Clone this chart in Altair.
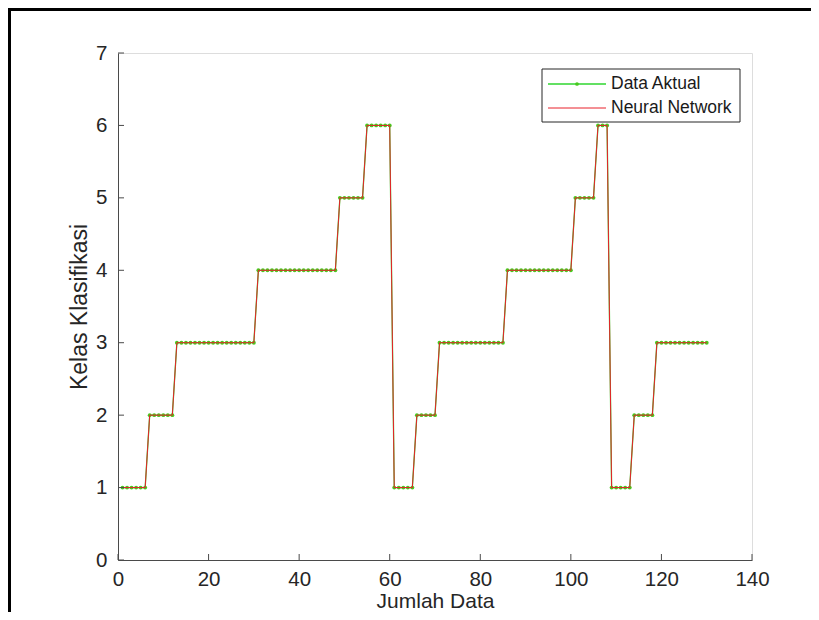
import altair as alt
import pandas as pd

# ---------------- data ----------------
jumlah_data = list(range(1, 131))

data_aktual = [
    1, 1, 1, 1, 1, 1,
    2, 2, 2, 2, 2, 2,
    3, 3, 3, 3, 3, 3, 3, 3, 3, 3, 3, 3, 3, 3, 3, 3, 3, 3,
    4, 4, 4, 4, 4, 4, 4, 4, 4, 4, 4, 4, 4, 4, 4, 4, 4, 4,
    5, 5, 5, 5, 5, 5,
    6, 6, 6, 6, 6, 6,
    1, 1, 1, 1, 1,
    2, 2, 2, 2, 2,
    3, 3, 3, 3, 3, 3, 3, 3, 3, 3, 3, 3, 3, 3, 3,
    4, 4, 4, 4, 4, 4, 4, 4, 4, 4, 4, 4, 4, 4, 4,
    5, 5, 5, 5, 5,
    6, 6, 6,
    1, 1, 1, 1, 1,
    2, 2, 2, 2, 2,
    3, 3, 3, 3, 3, 3, 3, 3, 3, 3, 3, 3,
]

neural_network = [
    1, 1, 1, 1, 1, 1,
    2, 2, 2, 2, 2, 2,
    3, 3, 3, 3, 3, 3, 3, 3, 3, 3, 3, 3, 3, 3, 3, 3, 3, 3,
    4, 4, 4, 4, 4, 4, 4, 4, 4, 4, 4, 4, 4, 4, 4, 4, 4, 4,
    5, 5, 5, 5, 5, 5,
    6, 6, 6, 6, 6, 6,
    1, 1, 1, 1, 1,
    2, 2, 2, 2, 2,
    3, 3, 3, 3, 3, 3, 3, 3, 3, 3, 3, 3, 3, 3, 3,
    4, 4, 4, 4, 4, 4, 4, 4, 4, 4, 4, 4, 4, 4, 4,
    5, 5, 5, 5, 5,
    6, 6, 6,
    1, 1, 1, 1, 1,
    2, 2, 2, 2, 2,
    3, 3, 3, 3, 3, 3, 3, 3, 3, 3, 3, 3,
]

x_ticks = [0, 20, 40, 60, 80, 100, 120, 140]
y_ticks = [0, 1, 2, 3, 4, 5, 6, 7]
legend_labels = ["Data Aktual", "Neural Network"]

df = pd.DataFrame({"x": jumlah_data, "y": data_aktual})
df_nn = pd.DataFrame({"x": jumlah_data, "y": neural_network})

# ---------------- layout ----------------
W, H = 634, 507
FONT = "Liberation Sans"
AXIS_COLOR = "#4a4a4a"
TEXT_COLOR = "#262626"
GREEN = "#2fd62f"
RED = "#e8202a"

xs = alt.Scale(domain=[0, 140], nice=False, zero=False)
ys = alt.Scale(domain=[0, 7], nice=False, zero=False)

x_axis = alt.Axis(
    values=x_ticks, grid=False, ticks=False, tickSize=0, labelFlush=False,
    domainColor=AXIS_COLOR, domainWidth=1,
    labelFont=FONT, labelFontSize=20.5, labelColor=TEXT_COLOR, labelPadding=9,
    title="Jumlah Data", titleFont=FONT, titleFontSize=21, titleFontWeight="normal",
    titleColor=TEXT_COLOR, titleX=W / 2, titleY=41, titleBaseline="middle",
    titleAlign="center",
)
y_axis = alt.Axis(
    values=y_ticks, grid=False, ticks=False, tickSize=0, labelFlush=False,
    domainColor=AXIS_COLOR, domainWidth=1,
    labelFont=FONT, labelFontSize=20.5, labelColor=TEXT_COLOR, labelPadding=11,
    title="Kelas Klasifikasi", titleFont=FONT, titleFontSize=23,
    titleFontWeight="normal", titleColor=TEXT_COLOR, titleX=-39, titleY=H / 2,
    titleAngle=270, titleBaseline="middle", titleAlign="center",
)

X = alt.X("x:Q", scale=xs, axis=x_axis)
Y = alt.Y("y:Q", scale=ys, axis=y_axis)

green_line = alt.Chart(df).mark_line(color=GREEN, strokeWidth=1.3).encode(x=X, y=Y)
green_pts = alt.Chart(df).mark_point(filled=True, size=15, color="#48c81e", opacity=1).encode(x=X, y=Y)
red_line = alt.Chart(df_nn).mark_line(color=RED, strokeWidth=1).encode(x=X, y=Y)

# inward ticks (MATLAB style)
xt = alt.Chart(pd.DataFrame({"x": x_ticks})).mark_rule(color=AXIS_COLOR, strokeWidth=1).encode(
    x=X, y=alt.value(H), y2=alt.value(H - 6),
)
yt = alt.Chart(pd.DataFrame({"y": y_ticks})).mark_rule(color=AXIS_COLOR, strokeWidth=1).encode(
    y=Y, x=alt.value(0), x2=alt.value(6),
)

one = alt.Chart(pd.DataFrame({"a": [0]}))

# figure frame (left & top)
frame_left = one.mark_rule(color="black", strokeWidth=3).encode(
    x=alt.value(-108.5), y=alt.value(-45), y2=alt.value(H + 52)
)
frame_top = one.mark_rule(color="black", strokeWidth=3).encode(
    y=alt.value(-43.5), x=alt.value(-110), x2=alt.value(W + 59)
)

# legend
LX0, LX1, LY0, LY1 = 424, 622, 16, 69
leg_box = one.mark_rect(fill="white", stroke="#262626", strokeWidth=1).encode(
    x=alt.value(LX0), x2=alt.value(LX1), y=alt.value(LY0), y2=alt.value(LY1)
)
leg_g = one.mark_rule(color=GREEN, strokeWidth=1.3).encode(
    x=alt.value(430), x2=alt.value(488), y=alt.value(31)
)
leg_gp = one.mark_point(filled=True, size=14, color="#48c81e", opacity=1).encode(
    x=alt.value(459), y=alt.value(31)
)
leg_r = one.mark_rule(color=RED, strokeWidth=1).encode(
    x=alt.value(430), x2=alt.value(488), y=alt.value(55)
)
leg_t1 = one.mark_text(align="left", baseline="middle", font=FONT, fontSize=17.5,
                       color="#1a1a1a", text=legend_labels[0]).encode(
    x=alt.value(493), y=alt.value(31)
)
leg_t2 = one.mark_text(align="left", baseline="middle", font=FONT, fontSize=17.5,
                       color="#1a1a1a", text=legend_labels[1]).encode(
    x=alt.value(493), y=alt.value(55)
)

chart = alt.layer(
    green_line, green_pts, red_line, xt, yt,
    frame_left, frame_top,
    leg_box, leg_g, leg_gp, leg_r, leg_t1, leg_t2,
).properties(
    width=W, height=H,
    autosize=alt.AutoSizeParams(type="none"),
    padding={"left": 110, "top": 45, "right": 59, "bottom": 52},
).configure_view(stroke="transparent", strokeWidth=0).configure(background="white")

chart.save("out.html", embed_options={"renderer": "svg", "actions": False})
